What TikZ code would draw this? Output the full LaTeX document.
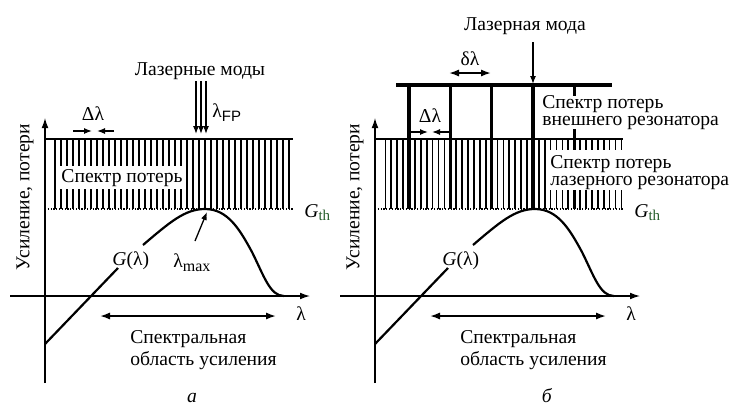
\documentclass[tikz,border=0pt]{standalone}
\usepackage{fontspec}
\setmainfont{Liberation Serif}
\newfontfamily\sansf{Liberation Sans}
\usetikzlibrary{arrows.meta}
\definecolor{thgreen}{RGB}{40,95,45}
\newcommand{\gth}{\textit{G}\raisebox{-0.35ex}{\fontsize{7.5}{7.5}\selectfont\color{thgreen}th}}
\newcommand{\commonpanel}[1]{%
\begin{scope}[shift={(#1,0)}]
  \draw[axisline] (45,383) -- (45,118);
  \draw[axisline] (10,296) -- (310,296);
  \draw[topline] (45,139) -- (293,139);
  \draw[thline] (45,209) -- (293,209);
  \node[txt,anchor=base west] (gth) at (304,217) {\gth};
  \draw[curve] (45,344) -- (118,268);
  \draw[curve] (143,245) .. controls (170,222) and (185,209) .. (205,209)
     .. controls (228,209) and (240,230) .. (252,252)
     .. controls (264,276) and (270,296) .. (284,296);
  \node[txt,anchor=base west] (glam) at (112,265) {\textit{G}(λ)};
  \coordinate (rA) at (100,316);
  \coordinate (rB) at (276,316);
  \draw[darr] (rA) -- (rB);
  \node[txt,anchor=base] (lamax) at (301,320) {λ};
  \node[txt,anchor=base west] (sr1) at (130,343) {Спектральная};
  \node[txt,anchor=base west] (sr2) at (130,365) {область усиления};
\end{scope}}
\begin{document}
\begin{tikzpicture}[x=0.5pt,y=-0.5pt,
  txt/.style={font=\fontsize{9.8}{11}\selectfont, inner sep=0pt},
  axisline/.style={line width=0.65pt,-{Latex[length=5pt,width=3.4pt]}},
  arr/.style={line width=0.65pt,-{Latex[length=4pt,width=3pt]}},
  darr/.style={line width=0.9pt,{Latex[length=5pt,width=3.6pt]}-{Latex[length=5pt,width=3.6pt]}},
  topline/.style={line width=1.1pt},
  gridline/.style={line width=0.85pt},
  thickline/.style={line width=1.6pt},
  extline/.style={line width=2pt},
  thline/.style={line width=1.1pt, dash pattern=on 0.6pt off 0.8pt},
  curve/.style={line width=1.1pt},
]
\useasboundingbox (0,0) rectangle (735,409);

% ---------- left panel ----------
\foreach \k in {0,...,39} \draw[gridline] ({55+6*\k},139) -- ({55+6*\k},209);
\begin{scope}[name prefix=L-]
\commonpanel{0}
\end{scope}
\node[txt,fill=white,inner xsep=1.5pt,inner ysep=1.5pt,anchor=base] (lossL) at (122,182) {Спектр потерь};
\node[txt,rotate=90] (yL) at (25,197) {Усиление, потери};
\node[txt,anchor=base] (modesL) at (200,75) {Лазерные моды};
\foreach \xx/\nm in {196/a,201/b,206/c}{
  \coordinate (m\nm s) at (\xx,81);
  \coordinate (m\nm e) at (\xx,134);
  \draw[arr] (m\nm s) -- (m\nm e);
}
\node[txt,anchor=base west] (lfp) at (212,117) {λ\raisebox{-0.45ex}{\sansf\fontsize{7.5}{7.5}\selectfont FP}};
\node[txt,anchor=base] (dlL) at (93,120) {Δλ};
\coordinate (dlL1s) at (73,131); \coordinate (dlL1e) at (92,131);
\coordinate (dlL2s) at (114,131); \coordinate (dlL2e) at (97,131);
\draw[arr] (dlL1s) -- (dlL1e);
\draw[arr] (dlL2s) -- (dlL2e);
\node[txt,anchor=base west] (lmax) at (173,267) {λ\raisebox{-0.45ex}{\fontsize{8}{8}\selectfont max}};
\coordinate (lmS) at (195,241); \coordinate (lmE) at (207,212);
\draw[arr] (lmS) -- (lmE);
\node[txt,anchor=base] (pa) at (192,402) {\textit{а}};

% ---------- right panel ----------
\foreach \k in {0,...,40} \draw[gridline] ({385.4+5.9*\k},139) -- ({385.4+5.9*\k},209);
\begin{scope}[name prefix=R-]
\commonpanel{330}
\end{scope}
\foreach \j in {0,...,4} \draw[thickline] ({409+41.3*\j},85) -- ({409+41.3*\j},209);
\draw[extline] (396,85) -- (612,85);
\fill[white] (539,96) rectangle (728,129);
\node[txt,anchor=base west] (ext1) at (542,108) {Спектр потерь};
\node[txt,anchor=base west] (ext2) at (542,125) {внешнего резонатора};
\fill[white] (547,150) rectangle (732,190);
\node[txt,anchor=base west] (las1) at (550,168) {Спектр потерь};
\node[txt,anchor=base west] (las2) at (550,185) {лазерного резонатора};
\node[txt,rotate=90] (yR) at (355,197) {Усиление, потери};
\node[txt,anchor=base] (modeR) at (525,30) {Лазерная мода};
\coordinate (mRs) at (533,42); \coordinate (mRe) at (533,84);
\draw[arr] (mRs) -- (mRe);
\node[txt,anchor=base] (sdl) at (470,65) {δλ};
\coordinate (sdA) at (449,73); \coordinate (sdB) at (491,73);
\draw[darr] (sdA) -- (sdB);
\node[txt,anchor=base] (dlR) at (430,122) {Δλ};
\coordinate (dlR1s) at (411,132); \coordinate (dlR1e) at (428,132);
\coordinate (dlR2s) at (449,132); \coordinate (dlR2e) at (432,132);
\draw[arr] (dlR1s) -- (dlR1e);
\draw[arr] (dlR2s) -- (dlR2e);
\node[txt,anchor=base] (pb) at (547,402) {\textit{б}};
\end{tikzpicture}
\end{document}
